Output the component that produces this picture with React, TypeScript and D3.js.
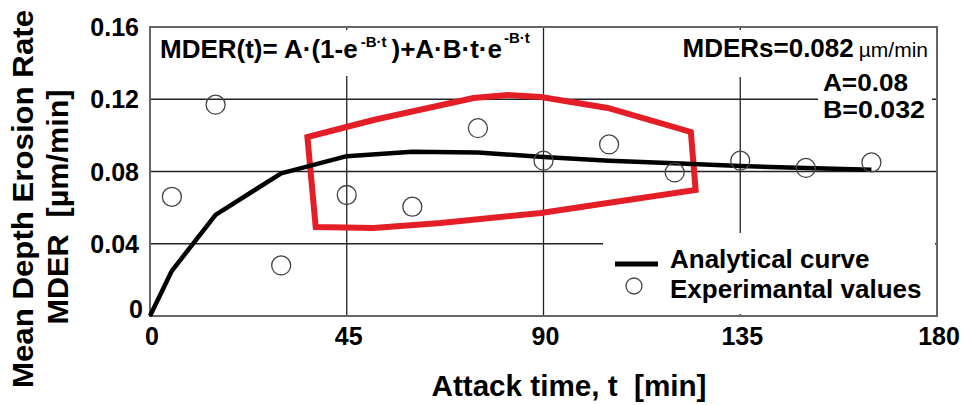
import React from 'react';
import * as d3 from 'd3';

const W = 965;
const H = 405;
const plot = { left: 150, right: 937, top: 27, bottom: 316 };
const font = '"Liberation Sans", Arial, sans-serif';

// experimental points
const expTimes = [5, 15, 30, 45, 60, 75, 90, 105, 120, 135, 150, 165];
const expValues = [0.066, 0.117, 0.028, 0.067, 0.0605, 0.104, 0.086, 0.095, 0.0795, 0.086, 0.082, 0.085];

// analytical curve
const curveTimes = [0, 5, 15, 30, 45, 60, 75, 90, 105, 120, 135, 150, 165];
const curveValues = [0, 0.025, 0.056, 0.079, 0.0885, 0.091, 0.0905, 0.088, 0.086, 0.0845, 0.083, 0.082, 0.081];

// hand drawn red outline (data units)
const markTimes = [36, 37.9, 51.1, 66.5, 89.4, 104.7, 124.8, 123.7, 104.7, 89.4, 81.8, 74, 51.1];
const markValues = [0.0991, 0.0493, 0.0487, 0.0515, 0.057, 0.0626, 0.0698, 0.1019, 0.1152, 0.1212, 0.1224, 0.1207, 0.1085];

const xTicks = [0, 45, 90, 135, 180];
const yTicks = [0, 0.04, 0.08, 0.12, 0.16];
const yTickLabels = ['0', '0.04', '0.08', '0.12', '0.16'];

export default function App() {
  const x = d3.scaleLinear().domain([0, 180]).range([plot.left, plot.right]);
  const y = d3.scaleLinear().domain([0, 0.16]).range([plot.bottom, plot.top]);

  const curve = d3
    .line<number>()
    .x((d, i) => x(curveTimes[i]))
    .y((d) => y(d));
  const mark = d3
    .line<number>()
    .x((d, i) => x(markTimes[i]))
    .y((d) => y(d))
    .curve(d3.curveLinearClosed);

  const grid = '#222';
  const bold = { fontFamily: font, fontWeight: 'bold' as const };

  return (
    <svg width={W} height={H} style={{ position: 'absolute', left: 0, top: 0, background: 'white' }}>
      {/* grid */}
      {xTicks.slice(1, -1).map((t) => (
        <line key={'gx' + t} x1={x(t)} x2={x(t)} y1={plot.top} y2={plot.bottom} stroke={grid} strokeWidth={1.3} />
      ))}
      {yTicks.slice(1, -1).map((v) => (
        <line key={'gy' + v} x1={plot.left} x2={plot.right} y1={y(v)} y2={y(v)} stroke={grid} strokeWidth={1.3} />
      ))}

      {/* white boxes behind annotations */}
      <rect x={153} y={30} width={382} height={46} fill="white" />
      <rect x={655} y={30} width={280} height={47} fill="white" />
      <rect x={818} y={78} width={114} height={43} fill="white" />
      <rect x={603} y={233} width={332} height={81} fill="white" />

      {/* frame */}
      <rect x={plot.left} y={plot.top} width={plot.right - plot.left} height={plot.bottom - plot.top} fill="none" stroke="#666" strokeWidth={2} />

      {/* red annotation */}
      <path d={mark(markValues) || ''} fill="none" stroke="#e31e26" strokeWidth={6} strokeLinejoin="miter" />

      {/* analytical curve */}
      <path d={curve(curveValues) || ''} fill="none" stroke="#000" strokeWidth={4.5} strokeLinejoin="round" />

      {/* experimental values */}
      {expValues.map((v, i) => (
        <circle key={'p' + i} cx={x(expTimes[i])} cy={y(v)} r={9.5} fill="none" stroke="#444" strokeWidth={1.3} />
      ))}

      {/* y tick labels */}
      {yTicks.map((v, i) => (
        <text
          key={'ty' + v}
          x={v === 0 ? 143 : 139}
          y={v === 0 ? y(v) + 2 : y(v) + 9}
          textAnchor="end"
          fontSize={25}
          {...bold}
        >
          {yTickLabels[i]}
        </text>
      ))}
      {/* x tick labels */}
      {xTicks.map((t) => (
        <text key={'tx' + t} x={x(t) + 2} y={345} textAnchor="middle" fontSize={25} {...bold}>
          {t}
        </text>
      ))}

      {/* axis titles */}
      <text x={569} y={396} textAnchor="middle" fontSize={30} textLength={275} lengthAdjust="spacingAndGlyphs" {...bold} xmlSpace="preserve">
        Attack time, t  [min]
      </text>
      <text transform="translate(33,199) rotate(-90)" textAnchor="middle" fontSize={30} textLength={378} lengthAdjust="spacingAndGlyphs" {...bold}>
        Mean Depth Erosion Rate
      </text>
      <text transform="translate(68,207) rotate(-90)" textAnchor="middle" fontSize={29} textLength={235} lengthAdjust="spacingAndGlyphs" {...bold} xmlSpace="preserve">
        MDER  [µm/min]
      </text>

      {/* equation */}
      <text x={160} y={58} fontSize={26} {...bold} xmlSpace="preserve">
        <tspan>MDER(t)= A·(1-e</tspan>
        <tspan dx={3} dy={-11} fontSize={15}>-B·t</tspan>
        <tspan dx={5} dy={11}>)+A·B·t·e</tspan>
        <tspan dx={2} dy={-15} fontSize={15}>-B·t</tspan>
      </text>

      {/* parameters */}
      <text x={928} y={57} textAnchor="end" fontSize={26} {...bold}>
        MDERs=0.082
        <tspan fontSize={21} fontWeight="normal" dx={5}>µm/min</tspan>
      </text>
      <text x={823} y={91} fontSize={24} textLength={85} lengthAdjust="spacingAndGlyphs" {...bold}>A=0.08</text>
      <text x={823} y={118} fontSize={24} textLength={102} lengthAdjust="spacingAndGlyphs" {...bold}>B=0.032</text>

      {/* legend */}
      <line x1={615} x2={658} y1={264} y2={264} stroke="#000" strokeWidth={5} />
      <circle cx={634} cy={286} r={8} fill="none" stroke="#444" strokeWidth={1.3} />
      <text x={670} y={268} fontSize={26} {...bold}>Analytical curve</text>
      <text x={670} y={298} fontSize={26} {...bold}>Experimantal values</text>
    </svg>
  );
}
